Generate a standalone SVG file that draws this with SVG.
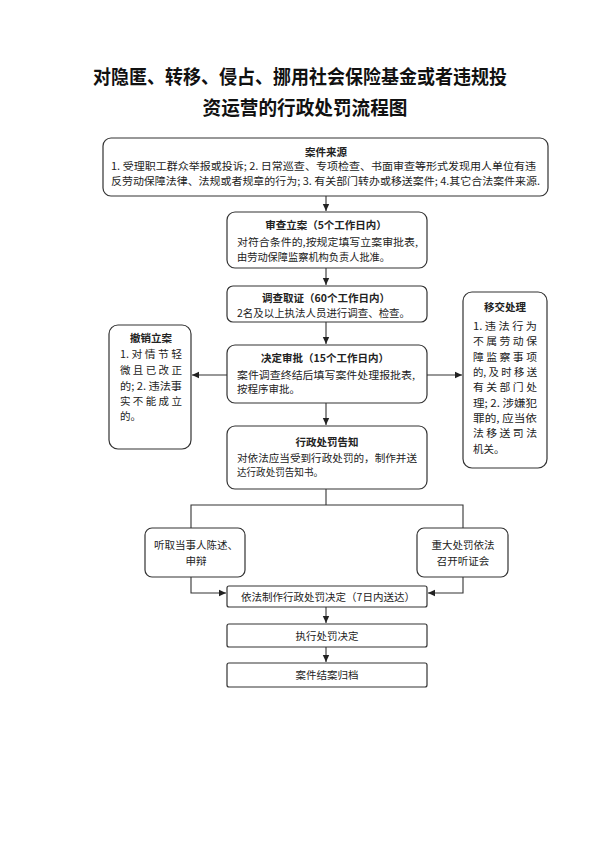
<svg xmlns="http://www.w3.org/2000/svg" width="600" height="848" viewBox="0 0 600 848">
<defs>
<marker id="ah" markerWidth="8" markerHeight="8" refX="7" refY="4" orient="auto" markerUnits="userSpaceOnUse">
<path d="M0,0.8 L7,4 L0,7.2 Z" fill="#222"/>
</marker>
<style>
.bx{fill:#fff;stroke:#333;stroke-width:1.2}
.ln{fill:none;stroke:#333;stroke-width:1.1}
.t{font-family:"Noto Sans CJK SC","Noto Sans CJK JP",sans-serif;font-size:10.5px;fill:#222}
.b{font-weight:bold}
.c{text-anchor:middle}
.h{font-family:"Noto Sans CJK SC","Noto Sans CJK JP",sans-serif;font-size:19px;font-weight:bold;fill:#111;text-anchor:middle}
</style>
</defs>
<rect width="600" height="848" fill="#fff"/>
<g id="title">
<text class="h" x="300" y="84" textLength="414" lengthAdjust="spacingAndGlyphs">对隐匿、转移、侵占、挪用社会保险基金或者违规投</text>
<text class="h" x="305" y="115" textLength="205" lengthAdjust="spacingAndGlyphs">资运营的行政处罚流程图</text>
</g>
<g id="connectors">
<line class="ln" x1="326" y1="196" x2="326" y2="211" marker-end="url(#ah)"/>
<line class="ln" x1="326" y1="268" x2="326" y2="285" marker-end="url(#ah)"/>
<line class="ln" x1="326" y1="322" x2="326" y2="344" marker-end="url(#ah)"/>
<line class="ln" x1="227" y1="375" x2="192" y2="375" marker-end="url(#ah)"/>
<line class="ln" x1="427" y1="375" x2="462" y2="375" marker-end="url(#ah)"/>
<line class="ln" x1="326" y1="403" x2="326" y2="425" marker-end="url(#ah)"/>
<polyline class="ln" points="326,489 326,505"/>
<polyline class="ln" points="191,528 191,505 463,505 463,528"/>
<polyline class="ln" points="191,577 191,593 226,593" marker-end="url(#ah)"/>
<polyline class="ln" points="463,577 463,593 428,593" marker-end="url(#ah)"/>
<line class="ln" x1="326" y1="607" x2="326" y2="623" marker-end="url(#ah)"/>
<line class="ln" x1="326" y1="647" x2="326" y2="662" marker-end="url(#ah)"/>
</g>
<g id="source">
<rect class="bx" x="103" y="138" width="445" height="58" rx="8"/>
<text class="t b c" x="326" y="156">案件来源</text>
<text class="t" x="111" y="170" textLength="425" lengthAdjust="spacingAndGlyphs">1.  受理职工群众举报或投诉;  2.  日常巡查、专项检查、书面审查等形式发现用人单位有违</text>
<text class="t" x="111" y="185" textLength="429" lengthAdjust="spacingAndGlyphs">反劳动保障法律、法规或者规章的行为; 3. 有关部门转办或移送案件; 4.其它合法案件来源.</text>
</g>
<g id="review">
<rect class="bx" x="227" y="212" width="200" height="56" rx="8"/>
<text class="t b c" x="326" y="229">审查立案（5个工作日内）</text>
<text class="t" x="237" y="246" textLength="181" lengthAdjust="spacingAndGlyphs">对符合条件的,按规定填写立案审批表,</text>
<text class="t" x="237" y="261" textLength="153" lengthAdjust="spacingAndGlyphs">由劳动保障监察机构负责人批准。</text>
</g>
<g id="investigate">
<rect class="bx" x="227" y="286" width="200" height="36" rx="6"/>
<text class="t b c" x="326" y="302">调查取证（60个工作日内）</text>
<text class="t" x="237" y="317" textLength="173" lengthAdjust="spacingAndGlyphs">2名及以上执法人员进行调查、检查。</text>
</g>
<g id="decision">
<rect class="bx" x="227" y="345" width="200" height="58" rx="8"/>
<text class="t b c" x="325" y="362">决定审批（15个工作日内）</text>
<text class="t" x="237" y="379" textLength="178" lengthAdjust="spacingAndGlyphs">案件调查终结后填写案件处理报批表,</text>
<text class="t" x="237" y="393" textLength="63" lengthAdjust="spacingAndGlyphs">按程序审批。</text>
</g>
<g id="cancel">
<rect class="bx" x="109" y="325" width="82" height="124" rx="9"/>
<text class="t b c" x="151" y="342">撤销立案</text>
<text class="t" x="120" y="358" textLength="62" lengthAdjust="spacingAndGlyphs">1. 对 情 节 轻</text>
<text class="t" x="120" y="374" textLength="62" lengthAdjust="spacingAndGlyphs">微 且 已 改 正</text>
<text class="t" x="120" y="390" textLength="62" lengthAdjust="spacingAndGlyphs">的; 2. 违法事</text>
<text class="t" x="120" y="405" textLength="62" lengthAdjust="spacingAndGlyphs">实 不 能 成 立</text>
<text class="t" x="120" y="420">的。</text>
</g>
<g id="transfer">
<rect class="bx" x="463" y="292" width="84" height="176" rx="9"/>
<text class="t b c" x="505" y="311">移交处理</text>
<text class="t" x="473" y="330" textLength="64" lengthAdjust="spacingAndGlyphs">1. 违 法 行 为</text>
<text class="t" x="473" y="345" textLength="64" lengthAdjust="spacingAndGlyphs">不 属 劳 动 保</text>
<text class="t" x="473" y="361" textLength="64" lengthAdjust="spacingAndGlyphs">障 监 察 事 项</text>
<text class="t" x="473" y="376" textLength="64" lengthAdjust="spacingAndGlyphs">的, 及 时 移 送</text>
<text class="t" x="473" y="391" textLength="64" lengthAdjust="spacingAndGlyphs">有 关 部 门 处</text>
<text class="t" x="473" y="407" textLength="64" lengthAdjust="spacingAndGlyphs">理; 2. 涉嫌犯</text>
<text class="t" x="473" y="422" textLength="64" lengthAdjust="spacingAndGlyphs">罪的, 应当依</text>
<text class="t" x="473" y="437" textLength="64" lengthAdjust="spacingAndGlyphs">法 移 送 司 法</text>
<text class="t" x="473" y="453">机关。</text>
</g>
<g id="notice">
<rect class="bx" x="227" y="426" width="200" height="63" rx="8"/>
<text class="t b c" x="327" y="446">行政处罚告知</text>
<text class="t" x="237" y="462" textLength="180" lengthAdjust="spacingAndGlyphs">对依法应当受到行政处罚的，制作并送</text>
<text class="t" x="237" y="476" textLength="86" lengthAdjust="spacingAndGlyphs">达行政处罚告知书。</text>
</g>
<g id="statement">
<rect class="bx" x="145" y="528" width="100" height="49" rx="7"/>
<text class="t c" x="196" y="549">听取当事人陈述、</text>
<text class="t c" x="196" y="565">申辩</text>
</g>
<g id="hearing">
<rect class="bx" x="417" y="528" width="91" height="49" rx="7"/>
<text class="t c" x="463" y="549">重大处罚依法</text>
<text class="t c" x="463" y="565">召开听证会</text>
</g>
<g id="penalty">
<rect class="bx" x="227" y="586" width="200" height="21" rx="2"/>
<text class="t c" x="328" y="601">依法制作行政处罚决定（7日内送达）</text>
</g>
<g id="execute">
<rect class="bx" x="227" y="624" width="200" height="23" rx="2"/>
<text class="t c" x="327" y="640">执行处罚决定</text>
</g>
<g id="archive">
<rect class="bx" x="227" y="663" width="200" height="24" rx="2"/>
<text class="t c" x="327" y="679">案件结案归档</text>
</g>
</svg>
